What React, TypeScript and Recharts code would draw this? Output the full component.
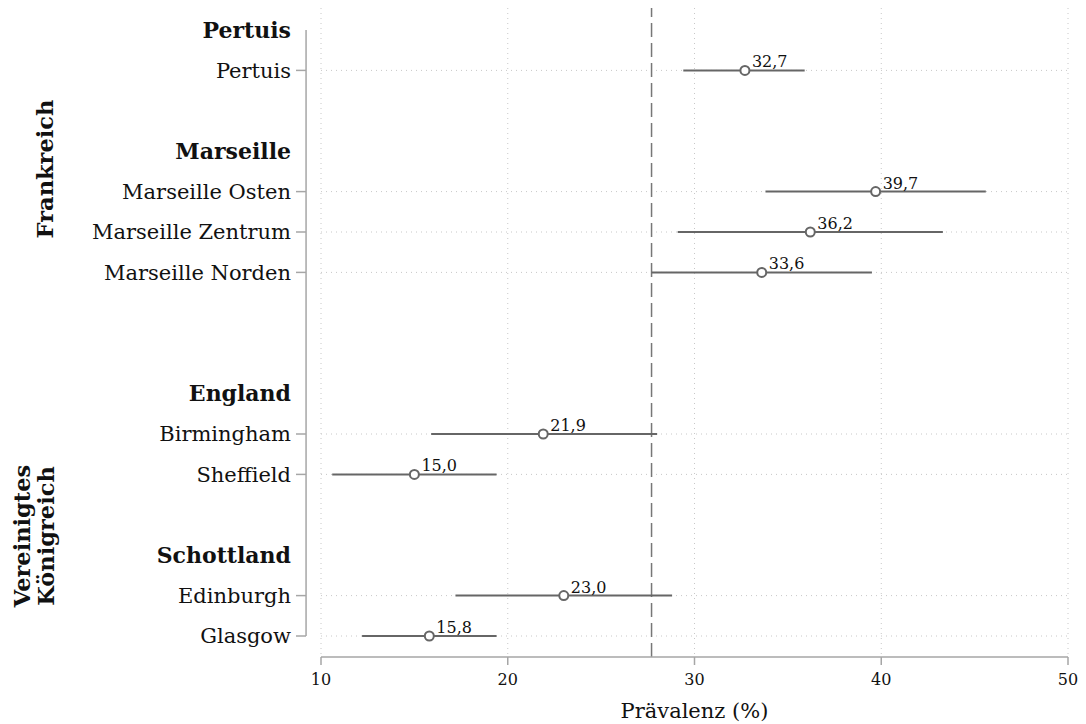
import {
  ScatterChart,
  Scatter,
  XAxis,
  YAxis,
  CartesianGrid,
  ReferenceLine,
  ErrorBar,
} from "recharts";

// ─── Data ─────────────────────────────────────────────────────────────────────
const sites = [
  "Pertuis",
  "Marseille Osten",
  "Marseille Zentrum",
  "Marseille Norden",
  "Birmingham",
  "Sheffield",
  "Edinburgh",
  "Glasgow",
];
const siteRows = [1, 4, 5, 6, 10, 11, 14, 15];
const prevalence = [32.7, 39.7, 36.2, 33.6, 21.9, 15.0, 23.0, 15.8];
const ciLow = [29.4, 33.8, 29.1, 27.7, 15.9, 10.6, 17.2, 12.2];
const ciHigh = [35.9, 45.6, 43.3, 39.5, 28.0, 19.4, 28.8, 19.4];

const headers = ["Pertuis", "Marseille", "England", "Schottland"];
const headerRows = [0, 3, 9, 13];

const allRows = Array.from({ length: 16 }, (_, i) => i);
const xTicks = [10, 20, 30, 40, 50];
const pooledPrevalence = 27.7;

const FONT = "'DejaVu Serif', Georgia, serif";
const AXIS = "#a6a6a6";
const MARK = "#666666";

const data = siteRows.map((row, i) => ({
  row,
  x: prevalence[i],
  err: [prevalence[i] - ciLow[i], ciHigh[i] - prevalence[i]],
}));

const fmt = (v: number) => v.toFixed(1).replace(".", ",");

// ─── Y tick: bold headers, plain site names with tick mark ───────────────────
function RowTick({ x, y, payload }: any) {
  const row = payload.value;
  const si = siteRows.indexOf(row);
  const hi = headerRows.indexOf(row);
  if (si < 0 && hi < 0) return null;
  return (
    <g>
      {si >= 0 && (
        <line x1={x - 25} x2={x - 15} y1={y} y2={y} stroke={AXIS} strokeWidth={1.5} />
      )}
      <text
        x={x - 30}
        y={y}
        dy="0.35em"
        textAnchor="end"
        fontFamily={FONT}
        fontSize={hi >= 0 ? 22 : 21}
        fontWeight={hi >= 0 ? 700 : 400}
        fill="#111"
      >
        {si >= 0 ? sites[si] : headers[hi]}
      </text>
    </g>
  );
}

function CountryLabels() {
  const style = { fontFamily: FONT, fontSize: 22.5, fontWeight: 700, fill: "#111" };
  return (
    <g>
      <text transform="translate(45,169) rotate(-90)" textAnchor="middle" dy="0.35em" {...style}>
        Frankreich
      </text>
      <text transform="translate(22,536) rotate(-90)" textAnchor="middle" dy="0.35em" {...style}>
        Vereinigtes
      </text>
      <text transform="translate(46,536) rotate(-90)" textAnchor="middle" dy="0.35em" {...style}>
        Königreich
      </text>
    </g>
  );
}

function PointShape({ cx, cy, payload }: any) {
  return (
    <g>
      <circle cx={cx} cy={cy} r={4.5} fill="#fff" stroke={MARK} strokeWidth={2} />
      <text x={cx + 7} y={cy - 3} fontFamily={FONT} fontSize={16} fill="#111">
        {fmt(payload.x)}
      </text>
    </g>
  );
}

// ─── Component ────────────────────────────────────────────────────────────────
export default function App() {
  return (
    <div style={{ position: "absolute", left: 0, top: 0, background: "#fff" }}>
      <ScatterChart
        width={1086}
        height={724}
        margin={{ top: 8, right: 18, left: 0, bottom: 0 }}
      >
        <CartesianGrid horizontal={false} stroke="#c8c8c8" strokeDasharray="1 4" />
        <XAxis
          type="number"
          dataKey="x"
          domain={[10, 50]}
          ticks={xTicks}
          height={67}
          stroke={AXIS}
          strokeWidth={1.5}
          tickSize={8}
          tickMargin={9}
          tick={{ fill: "#111", fontSize: 16, fontFamily: FONT }}
          label={{
            value: "Prävalenz (%)",
            position: "insideBottom",
            offset: 6,
            style: { fill: "#111", fontSize: 21, fontFamily: FONT },
          }}
        />
        <YAxis
          type="number"
          dataKey="row"
          domain={[0, 15]}
          reversed
          ticks={allRows}
          interval={0}
          width={321}
          padding={{ top: 22, bottom: 21 }}
          axisLine={false}
          tickLine={false}
          tickSize={0}
          tickMargin={0}
          tick={<RowTick />}
          label={{ content: () => <CountryLabels /> }}
        />
        {siteRows.map((row) => (
          <ReferenceLine
            key={row}
            y={row}
            stroke="#c8c8c8"
            strokeDasharray="1 4"
          />
        ))}
        <ReferenceLine
          segment={[
            { x: 9.2, y: 0 },
            { x: 9.2, y: 15 },
          ]}
          ifOverflow="visible"
          stroke={AXIS}
          strokeWidth={1.5}
        />
        <ReferenceLine
          x={pooledPrevalence}
          stroke="#777"
          strokeWidth={1.5}
          strokeDasharray="14 6"
        />
        <Scatter data={data} shape={<PointShape />} isAnimationActive={false}>
          <ErrorBar
            dataKey="err"
            direction="x"
            width={0}
            stroke={MARK}
            strokeWidth={2}
          />
        </Scatter>
      </ScatterChart>
    </div>
  );
}
